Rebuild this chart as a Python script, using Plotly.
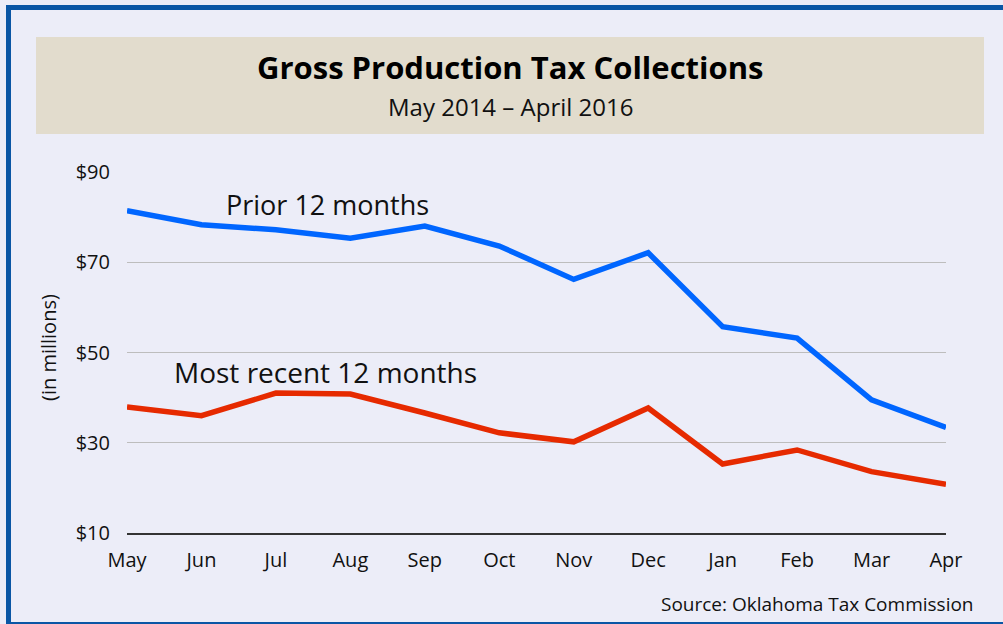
import plotly.graph_objects as go

months = ["May", "Jun", "Jul", "Aug", "Sep", "Oct", "Nov", "Dec", "Jan", "Feb", "Mar", "Apr"]
prior_12 = [81.4, 78.3, 77.2, 75.3, 78.0, 73.6, 66.2, 72.1, 55.7, 53.2, 39.5, 33.4]
recent_12 = [37.9, 36.0, 41.0, 40.8, 36.6, 32.2, 30.2, 37.7, 25.3, 28.4, 23.6, 20.8]
y_ticks = [10, 30, 50, 70, 90]
y_tick_labels = ["$10", "$30", "$50", "$70", "$90"]

W, H = 1003, 624
L, R, T, B = 127, 57, 172, 91
PW, PH = W - L - R, H - T - B

def px(x):
    return (x - L) / PW

def py(y):
    return (H - B - y) / PH

FONT = "Open Sans"

fig = go.Figure()
fig.add_trace(go.Scatter(x=list(range(len(months))), y=prior_12, mode="lines",
                         line=dict(color="#0066ff", width=5.5), name="Prior 12 months",
                         hoverinfo="skip"))
fig.add_trace(go.Scatter(x=list(range(len(months))), y=recent_12, mode="lines",
                         line=dict(color="#e62a00", width=5.5), name="Most recent 12 months",
                         hoverinfo="skip"))

shapes = [
    dict(type="rect", xref="paper", yref="paper", x0=px(36), x1=px(984), y0=py(37), y1=py(134),
         fillcolor="#e2dccd", line=dict(width=0), layer="below"),
    dict(type="rect", xref="paper", yref="paper", x0=px(8.5), x1=px(1012), y0=py(7.5), y1=py(624.5),
         fillcolor="rgba(0,0,0,0)", line=dict(color="#0a56a5", width=5), layer="above"),
]

annotations = [
    dict(text="<b>Gross Production Tax Collections</b>", xref="paper", yref="paper",
         x=px(510), y=py(89), xanchor="center", yanchor="bottom", showarrow=False,
         font=dict(family=FONT, size=31, color="#000000"), borderpad=0),
    dict(text="May 2014 \u2013 April 2016", xref="paper", yref="paper",
         x=px(510), y=py(89), xanchor="center", yanchor="top", showarrow=False,
         font=dict(family=FONT, size=24, color="#111111"), borderpad=0),
    dict(text="Prior 12 months", xref="paper", yref="paper",
         x=px(224), y=py(204), xanchor="left", yanchor="middle", showarrow=False,
         font=dict(family=FONT, size=27, color="#111111")),
    dict(text="Most recent 12 months", xref="paper", yref="paper",
         x=px(172), y=py(372), xanchor="left", yanchor="middle", showarrow=False,
         font=dict(family=FONT, size=28, color="#111111")),
    dict(text="(in millions)", xref="paper", yref="paper", textangle=-90,
         x=px(48), y=py(348), xanchor="center", yanchor="middle", showarrow=False,
         font=dict(family=FONT, size=20, color="#111111")),
    dict(text="Source: Oklahoma Tax Commission", xref="paper", yref="paper",
         x=px(976), y=py(604), xanchor="right", yanchor="middle", showarrow=False,
         font=dict(family=FONT, size=19, color="#111111")),
]

fig.update_layout(
    width=W, height=H,
    margin=dict(l=L, r=R, t=T, b=B, pad=0),
    paper_bgcolor="#ecedf8", plot_bgcolor="#ecedf8",
    showlegend=False,
    shapes=shapes, annotations=annotations,
    xaxis=dict(range=[0, len(months) - 1], tickmode="array",
               tickvals=list(range(len(months))), ticktext=months,
               showgrid=False, zeroline=False, showline=True, linecolor="#333333", linewidth=1.5,
               ticks="", ticklabelstandoff=8,
               tickfont=dict(family=FONT, size=20, color="#111111"), fixedrange=True),
    yaxis=dict(range=[10, 90], tickmode="array", tickvals=y_ticks, ticktext=y_tick_labels,
               showgrid=True, gridcolor="#bdbdbd", gridwidth=1.2, zeroline=False,
               showline=False, ticks="", ticklabelstandoff=16,
               tickfont=dict(family=FONT, size=20, color="#111111"), fixedrange=True),
)

fig.write_html("out.html", config={"displayModeBar": False},
               post_script="document.body.style.margin='0';document.body.style.overflow='hidden';")
